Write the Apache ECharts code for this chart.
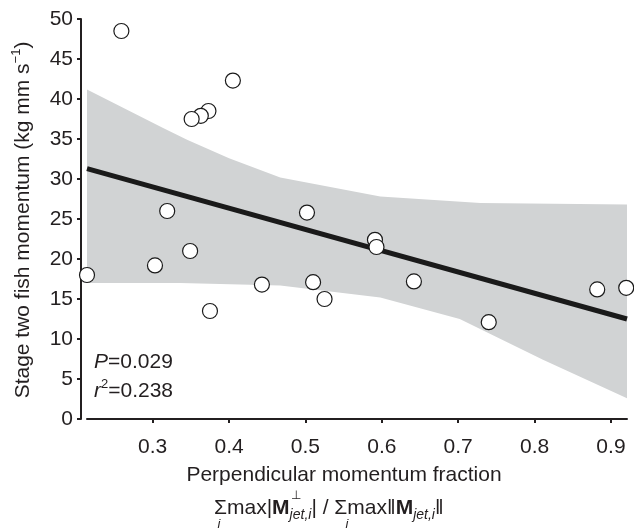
<!DOCTYPE html>
<html>
<head>
<meta charset="utf-8">
<script src="https://cdn.jsdelivr.net/npm/echarts@6/dist/echarts.min.js"></script>
<style>
  html, body { margin: 0; padding: 0; background: #fff; }
  #chart { width: 634px; height: 529px; }
</style>
</head>
<body>
<div id="chart"></div>
<script>
// perpendicular momentum fraction vs stage two fish momentum
const fracX = [0.259, 0.405, 0.373, 0.363, 0.351, 0.319, 0.349, 0.303, 0.214, 0.443,
  0.375, 0.510, 0.525, 0.502, 0.591, 0.593, 0.642, 0.740, 0.882, 0.920]
const momentum = [48.5, 42.3, 38.5, 37.9, 37.5, 26.0, 21.0, 19.2, 18.0, 16.8,
  13.5, 17.1, 15.0, 25.8, 22.4, 21.5, 17.2, 12.1, 16.2, 16.4]

// regression line
const fitX = [0.214, 0.921]
const fitY = [31.3, 12.5]

// shaded band edges
const upperX = [0.214, 0.313, 0.345, 0.400, 0.467, 0.598, 0.729, 0.921]
const upperY = [41.2, 36.4, 34.9, 32.6, 30.2, 27.8, 27.0, 26.8]
const lowerX = [0.214, 0.336, 0.467, 0.598, 0.702, 0.811, 0.921]
const lowerY = [17.0, 17.0, 16.7, 15.2, 12.5, 7.4, 2.6]

const xTicks = [0.3, 0.4, 0.5, 0.6, 0.7, 0.8, 0.9]

const FONT = 'Liberation Sans, Arial, Helvetica, sans-serif'
const INK = '#231f20'

const chart = echarts.init(document.getElementById('chart'), null, { renderer: 'canvas' })

const option = {
  animation: false,
  textStyle: { fontFamily: FONT },
  grid: { left: 87, right: 7, top: 19, bottom: 110 },
  xAxis: {
    type: 'value',
    min: 0.214,
    max: 0.921,
    offset: 8,
    splitLine: { show: false },
    axisLine: { lineStyle: { color: INK, width: 2 } },
    axisTick: { customValues: xTicks, length: 4, lineStyle: { color: INK, width: 2 } },
    axisLabel: {
      customValues: xTicks,
      color: INK, fontSize: 21, fontFamily: FONT, margin: 10,
      formatter: v => v.toFixed(1)
    }
  },
  yAxis: {
    type: 'value',
    min: 0,
    max: 50,
    interval: 5,
    offset: 6,
    splitLine: { show: false },
    axisLine: { show: true, lineStyle: { color: INK, width: 2 } },
    axisTick: { show: true, length: 4, lineStyle: { color: INK, width: 2 } },
    axisLabel: { color: INK, fontSize: 21, fontFamily: FONT, margin: 8 }
  },
  series: [
    {
      type: 'custom',
      z: 1,
      silent: true,
      data: [0],
      renderItem: (params, api) => {
        const pts = []
        upperX.forEach((x, i) => pts.push(api.coord([x, upperY[i]])))
        for (let i = lowerX.length - 1; i >= 0; i--) pts.push(api.coord([lowerX[i], lowerY[i]]))
        return { type: 'polygon', shape: { points: pts }, style: { fill: '#d1d3d4' } }
      }
    },
    {
      type: 'line',
      z: 2,
      data: fitX.map((x, i) => [x, fitY[i]]),
      showSymbol: false,
      lineStyle: { color: '#1a1a1a', width: 5 }
    },
    {
      type: 'scatter',
      z: 3,
      data: fracX.map((x, i) => [x, momentum[i]]),
      symbol: 'circle',
      symbolSize: 15,
      itemStyle: { color: '#fff', borderColor: '#1a1a1a', borderWidth: 1.2, opacity: 1 }
    }
  ],
  graphic: [
    {
      type: 'text', x: 23, y: 220, rotation: Math.PI / 2,
      style: {
        text: 'Stage two fish momentum (kg mm s{sup|−1})',
        fill: INK, font: '21px ' + FONT, align: 'center', verticalAlign: 'middle',
        lineHeight: 26,
        rich: { sup: { fontSize: 13, fontFamily: FONT, fill: INK, verticalAlign: 'top', lineHeight: 26 } }
      }
    },
    {
      type: 'text', x: 344, y: 475,
      style: { text: 'Perpendicular momentum fraction', fill: INK, font: '21px ' + FONT, align: 'center', verticalAlign: 'middle' }
    },
    {
      type: 'text', x: 214, y: 508,
      style: {
        text: 'Σmax|{b|M}{sub|jet,i}| / Σmax‖{b|M}{sub|jet,i}‖',
        fill: INK, font: '21px ' + FONT, align: 'left', verticalAlign: 'middle', lineHeight: 28,
        rich: {
          b: { fontWeight: 'bold', fontSize: 21, fontFamily: FONT, fill: INK },
          sub: { fontStyle: 'italic', fontSize: 14, fontFamily: FONT, fill: INK, verticalAlign: 'bottom', lineHeight: 28 }
        }
      }
    },
    { type: 'text', x: 296, y: 496, style: { text: '⊥', fill: INK, font: '12px ' + FONT, align: 'center', verticalAlign: 'middle' } },
    { type: 'text', x: 219, y: 524, style: { text: 'i', fill: INK, font: 'italic 13px ' + FONT, align: 'center', verticalAlign: 'middle' } },
    { type: 'text', x: 347, y: 524, style: { text: 'i', fill: INK, font: 'italic 13px ' + FONT, align: 'center', verticalAlign: 'middle' } },
    {
      type: 'text', x: 94, y: 362,
      style: {
        text: '{i|P}=0.029', fill: INK, font: '21px ' + FONT, align: 'left', verticalAlign: 'middle',
        rich: { i: { fontStyle: 'italic', fontSize: 21, fontFamily: FONT, fill: INK } }
      }
    },
    {
      type: 'text', x: 94, y: 391,
      style: {
        text: '{i|r}{sup|2}=0.238', fill: INK, font: '21px ' + FONT, align: 'left', verticalAlign: 'middle', lineHeight: 26,
        rich: {
          i: { fontStyle: 'italic', fontSize: 21, fontFamily: FONT, fill: INK, lineHeight: 26 },
          sup: { fontSize: 13, fontFamily: FONT, fill: INK, verticalAlign: 'top', lineHeight: 26 }
        }
      }
    }
  ]
}

chart.setOption(option)
</script>
</body>
</html>
